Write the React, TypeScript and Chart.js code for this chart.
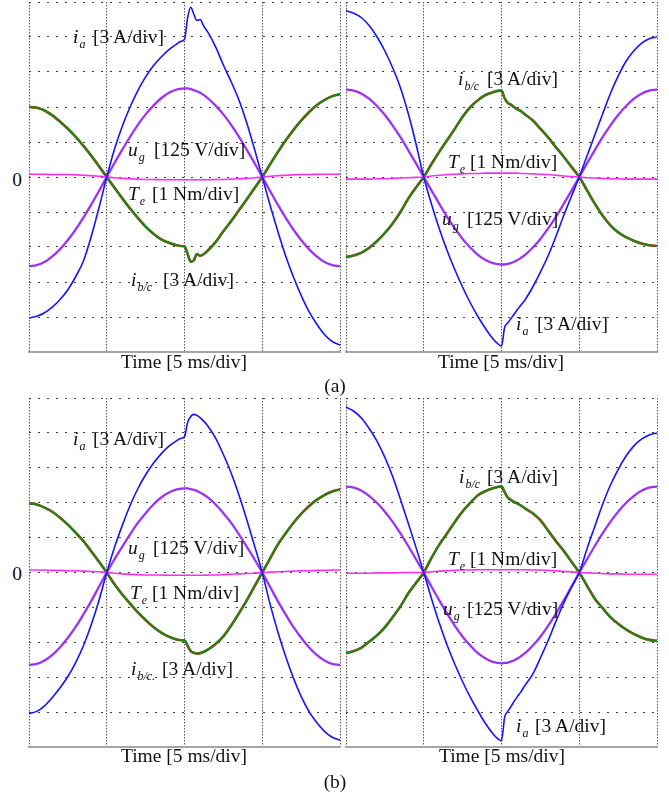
import React, { useEffect, useRef } from "react";
import { Chart, registerables } from "chart.js";

Chart.register(...registerables);

// Sample instants in divisions of 5 ms (one mains period = 4 div), denser around the transient
const time = [
  0, 0.1, 0.2, 0.3, 0.4, 0.5, 0.6, 0.7, 0.8, 0.9,
  1.0, 1.1, 1.2, 1.3, 1.4, 1.5, 1.6, 1.7, 1.8, 1.9,
  1.95, 2.0, 2.04, 2.08, 2.12, 2.16, 2.2, 2.25, 2.3,
  2.4, 2.5, 2.6, 2.7, 2.8, 2.9, 3.0,
  3.1, 3.2, 3.3, 3.4, 3.5, 3.6, 3.7, 3.8, 3.9, 4.0,
];

// (a) left
const iaAL = [
  -4.03, -3.98, -3.88, -3.72, -3.5, -3.22, -2.85, -2.4, -1.7, -0.88,
  0, 0.8, 1.45, 2.0, 2.47, 2.86, 3.18, 3.43, 3.64, 3.8,
  3.87, 3.93, 4.55, 4.85, 4.65, 4.47, 4.5, 4.3, 4.14,
  3.72, 3.2, 2.72, 2.2, 1.55, 0.8, 0,
  -0.8, -1.55, -2.25, -2.85, -3.38, -3.84, -4.2, -4.5, -4.7, -4.8,
];
const ugAL = [
  -2.55, -2.52, -2.43, -2.27, -2.06, -1.8, -1.5, -1.16, -0.79, -0.4,
  0, 0.4, 0.78, 1.15, 1.49, 1.79, 2.04, 2.25, 2.41, 2.5,
  2.52, 2.53, 2.53, 2.51, 2.48, 2.45, 2.41, 2.34, 2.25,
  2.04, 1.79, 1.49, 1.15, 0.78, 0.4, 0,
  -0.4, -0.79, -1.16, -1.5, -1.8, -2.06, -2.27, -2.43, -2.52, -2.55,
];
const ibcAL = [
  2.0, 1.98, 1.9, 1.76, 1.58, 1.38, 1.15, 0.89, 0.61, 0.31,
  0, -0.31, -0.61, -0.9, -1.17, -1.42, -1.62, -1.78, -1.88, -1.95,
  -1.97, -1.98, -2.2, -2.42, -2.38, -2.2, -2.25, -2.2, -2.1,
  -1.86, -1.55, -1.26, -0.95, -0.64, -0.32, 0,
  0.36, 0.71, 1.04, 1.34, 1.61, 1.85, 2.05, 2.2, 2.31, 2.37,
];
const teAL = [
  0.08, 0.08, 0.08, 0.07, 0.07, 0.07, 0.06, 0.05, 0.04, 0.02,
  0, -0.02, -0.04, -0.05, -0.06, -0.07, -0.07, -0.08, -0.08, -0.08,
  -0.08, -0.08, -0.08, -0.08, -0.08, -0.08, -0.08, -0.08, -0.08,
  -0.07, -0.07, -0.06, -0.05, -0.04, -0.02, 0,
  0.02, 0.04, 0.05, 0.06, 0.07, 0.07, 0.08, 0.08, 0.08, 0.08,
];

// (a) right
const iaAR = [
  4.75, 4.68, 4.55, 4.32, 4.0, 3.6, 3.12, 2.55, 1.82, 0.95,
  0, -0.78, -1.48, -2.1, -2.65, -3.15, -3.6, -4.0, -4.35, -4.65,
  -4.76, -4.83, -4.3, -4.17, -4.05, -3.93, -3.8, -3.66, -3.52,
  -3.15, -2.72, -2.25, -1.7, -1.1, -0.55, 0,
  0.6, 1.2, 1.8, 2.38, 2.88, 3.3, 3.6, 3.82, 3.95, 4.0,
];
const ugAR = [
  2.5, 2.47, 2.38, 2.23, 2.02, 1.77, 1.47, 1.14, 0.77, 0.39,
  0, -0.39, -0.77, -1.14, -1.47, -1.77, -2.02, -2.23, -2.38, -2.47,
  -2.49, -2.5, -2.5, -2.48, -2.46, -2.42, -2.38, -2.31, -2.23,
  -2.02, -1.77, -1.47, -1.14, -0.77, -0.39, 0,
  0.39, 0.77, 1.14, 1.47, 1.77, 2.02, 2.23, 2.38, 2.47, 2.5,
];
const ibcAR = [
  -2.29, -2.24, -2.16, -2.02, -1.83, -1.6, -1.33, -1.0, -0.62, -0.3,
  0, 0.37, 0.72, 1.05, 1.38, 1.72, 2.0, 2.2, 2.35, 2.43,
  2.46, 2.47, 2.25, 2.12, 2.07, 2.0, 1.94, 1.88, 1.79,
  1.62, 1.38, 1.13, 0.85, 0.58, 0.29, 0,
  -0.38, -0.76, -1.1, -1.38, -1.58, -1.72, -1.82, -1.9, -1.95, -1.97,
];
const teAR = [
  -0.06, -0.06, -0.06, -0.06, -0.05, -0.05, -0.04, -0.03, -0.02, -0.01,
  0, 0.03, 0.05, 0.07, 0.08, 0.09, 0.1, 0.1, 0.11, 0.11,
  0.11, 0.11, 0.11, 0.11, 0.11, 0.11, 0.11, 0.1, 0.1,
  0.09, 0.08, 0.07, 0.05, 0.03, 0.01, 0,
  -0.02, -0.03, -0.04, -0.05, -0.05, -0.06, -0.06, -0.06, -0.06, -0.06,
];

// (b) left
const iaBL = [
  -4.04, -3.98, -3.82, -3.58, -3.3, -2.98, -2.58, -2.1, -1.5, -0.8,
  0, 0.72, 1.35, 1.92, 2.4, 2.8, 3.13, 3.4, 3.62, 3.78,
  3.84, 3.89, 4.3, 4.47, 4.53, 4.5, 4.44, 4.33, 4.2,
  3.85, 3.38, 2.85, 2.22, 1.52, 0.77, 0,
  -0.9, -1.7, -2.4, -3.02, -3.55, -3.98, -4.3, -4.55, -4.72, -4.8,
];
const ugBL = [
  -2.65, -2.62, -2.52, -2.36, -2.14, -1.87, -1.56, -1.2, -0.82, -0.41,
  0, 0.38, 0.74, 1.09, 1.42, 1.7, 1.95, 2.15, 2.29, 2.38,
  2.4, 2.41, 2.41, 2.39, 2.37, 2.34, 2.29, 2.23, 2.15,
  1.95, 1.7, 1.42, 1.09, 0.74, 0.38, 0,
  -0.41, -0.82, -1.2, -1.56, -1.87, -2.14, -2.36, -2.52, -2.62, -2.65,
];
const ibcBL = [
  1.98, 1.95, 1.86, 1.74, 1.57, 1.37, 1.14, 0.9, 0.61, 0.31,
  0, -0.34, -0.63, -0.89, -1.14, -1.36, -1.56, -1.72, -1.84, -1.92,
  -1.94, -1.95, -2.1, -2.25, -2.3, -2.32, -2.31, -2.27, -2.21,
  -2.05, -1.83, -1.52, -1.17, -0.8, -0.4, 0,
  0.4, 0.8, 1.12, 1.42, 1.68, 1.9, 2.08, 2.22, 2.32, 2.38,
];
const teBL = [
  0.07, 0.07, 0.07, 0.06, 0.06, 0.05, 0.05, 0.04, 0.03, 0.02,
  0, -0.02, -0.04, -0.05, -0.06, -0.07, -0.07, -0.07, -0.08, -0.08,
  -0.08, -0.08, -0.08, -0.08, -0.08, -0.08, -0.08, -0.08, -0.07,
  -0.07, -0.06, -0.05, -0.04, -0.03, -0.02, 0,
  0.01, 0.02, 0.03, 0.04, 0.05, 0.05, 0.06, 0.06, 0.07, 0.07,
];

// (b) right
const iaBR = [
  4.74, 4.62, 4.42, 4.12, 3.76, 3.3, 2.75, 2.1, 1.42, 0.72,
  0, -0.75, -1.45, -2.08, -2.63, -3.13, -3.58, -3.98, -4.35, -4.65,
  -4.76, -4.82, -4.15, -3.98, -3.85, -3.7, -3.57, -3.42, -3.24,
  -2.92, -2.45, -1.95, -1.4, -0.88, -0.42, 0,
  0.68, 1.32, 1.95, 2.5, 2.95, 3.33, 3.62, 3.82, 3.94, 4.0,
];
const ugBR = [
  2.46, 2.43, 2.34, 2.19, 1.99, 1.74, 1.45, 1.12, 0.76, 0.38,
  0, -0.41, -0.8, -1.18, -1.53, -1.84, -2.1, -2.32, -2.47, -2.57,
  -2.59, -2.6, -2.59, -2.58, -2.55, -2.52, -2.47, -2.4, -2.32,
  -2.1, -1.84, -1.53, -1.18, -0.8, -0.41, 0,
  0.38, 0.76, 1.12, 1.45, 1.74, 1.99, 2.19, 2.34, 2.43, 2.46,
];
const ibcBR = [
  -2.31, -2.25, -2.15, -1.98, -1.8, -1.57, -1.28, -0.97, -0.6, -0.3,
  0, 0.42, 0.8, 1.12, 1.45, 1.75, 2.0, 2.22, 2.34, 2.42,
  2.45, 2.47, 2.3, 2.15, 2.08, 2.02, 1.98, 1.92, 1.84,
  1.7, 1.5, 1.2, 0.9, 0.62, 0.31, 0,
  -0.38, -0.75, -1.02, -1.28, -1.47, -1.63, -1.76, -1.86, -1.93, -1.96,
];
const teBR = [
  -0.02, -0.02, -0.02, -0.02, -0.01, -0.01, -0.01, 0, 0, 0,
  0, 0.02, 0.04, 0.05, 0.06, 0.07, 0.07, 0.08, 0.08, 0.08,
  0.08, 0.08, 0.08, 0.08, 0.08, 0.08, 0.08, 0.08, 0.08,
  0.07, 0.07, 0.06, 0.05, 0.03, 0.02, 0,
  -0.01, -0.02, -0.03, -0.04, -0.04, -0.05, -0.05, -0.05, -0.05, -0.05,
];

const BLUE = "#1414ff";
const PURPLE = "#9a33f5";
const GREEN = "#168a16";
const RED = "#f01010";
const MAGENTA = "#ff2cf5";

const PAD = 4;
const FS = 19.5;
const FONT = '"Liberation Serif", "Times New Roman", serif';

type PanelProps = {
  left: number;
  top: number;
  width: number;
  height: number;
  ia: number[];
  ug: number[];
  ibc: number[];
  te: number[];
};

function Scope({ left, top, width, height, ia, ug, ibc, te }: PanelProps) {
  const ref = useRef<HTMLCanvasElement>(null);

  useEffect(() => {
    const canvas = ref.current;
    if (!canvas) return;
    const pts = (ys: number[]) => time.map((t, i) => ({ x: t, y: ys[i] }));
    const trace = (label: string, ys: number[], color: string, w: number, order: number) => ({
      label,
      data: pts(ys),
      borderColor: color,
      backgroundColor: color,
      borderWidth: w,
      pointRadius: 0,
      fill: false,
      cubicInterpolationMode: "monotone" as const,
      borderJoinStyle: "round" as const,
      borderCapStyle: "round" as const,
      order,
    });
    const chart = new Chart(canvas, {
      type: "line",
      data: {
        datasets: [
          trace("ia", ia, BLUE, 1.6, 1),
          trace("Te", te, MAGENTA, 1.6, 2),
          trace("ug", ug, PURPLE, 2.3, 3),
          trace("ib", ibc, GREEN, 2.1, 4),
          trace("ic", ibc, RED, 2.6, 5),
        ],
      },
      options: {
        animation: false,
        responsive: false,
        events: [],
        layout: { padding: PAD },
        plugins: { legend: { display: false }, tooltip: { enabled: false } },
        scales: {
          x: {
            type: "linear",
            min: 0,
            max: 4,
            ticks: { display: false, stepSize: 1 },
            grid: { color: "#555", lineWidth: 1, drawTicks: false },
            border: { display: true, color: "#a5a5a5", width: 2, dash: [1.5, 1.5] },
          },
          y: {
            type: "linear",
            min: -5,
            max: 5,
            ticks: { display: false, stepSize: 1 },
            grid: { color: "#3a3a3a", lineWidth: 1, drawTicks: false },
            border: { display: false, dash: [2, 7] },
          },
        },
      },
    });
    return () => chart.destroy();
  }, [ia, ug, ibc, te]);

  return (
    <canvas
      ref={ref}
      width={width + 2 * PAD}
      height={height + 2 * PAD}
      style={{
        position: "absolute",
        left: left - PAD,
        top: top - PAD,
        width: width + 2 * PAD,
        height: height + 2 * PAD,
      }}
    />
  );
}

type TagProps = { sym: string; sub: string; text: string; symX: number; textX: number; cy: number };

function Tag({ sym, sub, text, symX, textX, cy }: TagProps) {
  const top = cy - 0.567 * FS;
  return (
    <>
      <span
        style={{
          position: "absolute",
          left: symX,
          top,
          fontSize: FS,
          lineHeight: `${FS}px`,
          fontStyle: "italic",
          whiteSpace: "nowrap",
        }}
      >
        {sym}
        <span style={{ fontSize: 12, position: "relative", top: 5, marginLeft: 1 }}>{sub}</span>
      </span>
      <span
        style={{
          position: "absolute",
          left: textX,
          top,
          fontSize: FS,
          lineHeight: `${FS}px`,
          whiteSpace: "nowrap",
        }}
      >
        {text}
      </span>
    </>
  );
}

function Centered({ text, cx, cy }: { text: string; cx: number; cy: number }) {
  return (
    <span
      style={{
        position: "absolute",
        left: cx,
        top: cy - 0.567 * FS,
        transform: "translateX(-50%)",
        fontSize: FS,
        lineHeight: `${FS}px`,
        whiteSpace: "nowrap",
      }}
    >
      {text}
    </span>
  );
}

export default function App() {
  return (
    <div
      style={{
        position: "absolute",
        left: 0,
        top: 0,
        width: 669,
        height: 798,
        background: "#fff",
        overflow: "hidden",
        fontFamily: FONT,
        color: "#111",
      }}
    >
      <Scope left={29} top={2} width={311} height={350} ia={iaAL} ug={ugAL} ibc={ibcAL} te={teAL} />
      <Scope left={346} top={2} width={311} height={350} ia={iaAR} ug={ugAR} ibc={ibcAR} te={teAR} />
      <Scope left={29} top={398} width={311} height={349} ia={iaBL} ug={ugBL} ibc={ibcBL} te={teBL} />
      <Scope left={346} top={398} width={311} height={349} ia={iaBR} ug={ugBR} ibc={ibcBR} te={teBR} />

      <Centered text="0" cx={17} cy={181} />
      <Centered text="0" cx={17} cy={575} />

      <Tag sym="i" sub="a" text="[3 A/div]" symX={73} textX={93} cy={38} />
      <Tag sym="u" sub="g" text="[125 V/div]" symX={128} textX={154} cy={151} />
      <Tag sym="T" sub="e" text="[1 Nm/div]" symX={128} textX={152} cy={195} />
      <Tag sym="i" sub="b/c" text="[3 A/div]" symX={131} textX={163} cy={281} />

      <Tag sym="i" sub="b/c" text="[3 A/div]" symX={458} textX={487} cy={80} />
      <Tag sym="T" sub="e" text="[1 Nm/div]" symX={448} textX={470} cy={163} />
      <Tag sym="u" sub="g" text="[125 V/div]" symX={442} textX={467} cy={220} />
      <Tag sym="i" sub="a" text="[3 A/div]" symX={516} textX={537} cy={325} />

      <Tag sym="i" sub="a" text="[3 A/div]" symX={73} textX={93} cy={440} />
      <Tag sym="u" sub="g" text="[125 V/div]" symX={128} textX={153} cy={549} />
      <Tag sym="T" sub="e" text="[1 Nm/div]" symX={130} textX={152} cy={594} />
      <Tag sym="i" sub="b/c." text="[3 A/div]" symX={131} textX={162} cy={670} />

      <Tag sym="i" sub="b/c" text="[3 A/div]" symX={459} textX={487} cy={478} />
      <Tag sym="T" sub="e" text="[1 Nm/div]" symX={448} textX={470} cy={560} />
      <Tag sym="u" sub="g" text="[125 V/div]" symX={443} textX={467} cy={610} />
      <Tag sym="i" sub="a" text="[3 A/div]" symX={516} textX={535} cy={727} />

      <Centered text="Time [5 ms/div]" cx={184} cy={363} />
      <Centered text="Time [5 ms/div]" cx={501} cy={363} />
      <Centered text="Time [5 ms/div]" cx={184} cy={757} />
      <Centered text="Time [5 ms/div]" cx={502} cy={757} />

      <Centered text="(a)" cx={335} cy={387} />
      <Centered text="(b)" cx={335} cy={783} />
    </div>
  );
}
